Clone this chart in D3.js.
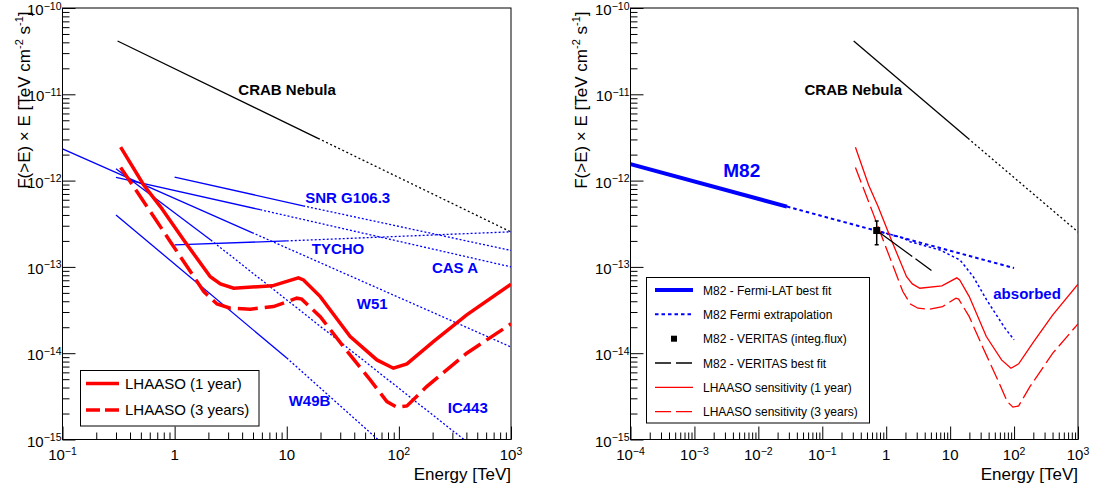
<!DOCTYPE html>
<html>
<head>
<meta charset="utf-8">
<script src="https://cdn.jsdelivr.net/npm/d3@7"></script>
<style>
  body { margin: 0; background: #fff; }
  svg { display: block; font-family: "Liberation Sans", Arial, Helvetica, sans-serif; }
</style>
</head>
<body>
<div id="chart"></div>
<script>
// Crab Nebula: fitted range (solid) then extrapolation (dotted)
const crabE = [0.31, 19, 1000];
const crabF = [4.15e-11, 3.09e-12, 2.54e-13];

// SNR sources, left panel: [start, end of fit, end of extrapolation]
const snrNames = ["SNR G106.3", "TYCHO", "CAS A", "W51", "W49B", "IC443"];
const snrE = [
  [1, 14, 1000],
  [1, 10, 1000],
  [0.3, 5.8, 1000],
  [0.1, 4.9, 1000],
  [0.3, 10, 65],
  [0.3, 2.1, 380]
];
const snrF = [
  [1.1e-12, 5.1e-13, 1.55e-13],
  [1.8e-13, 2.0e-13, 2.55e-13],
  [1.09e-12, 4.6e-13, 1.0e-13],
  [2.33e-12, 2.5e-13, 1.18e-14],
  [4.0e-13, 8.8e-15, 1.0e-15],
  [1.37e-12, 2.05e-13, 1.0e-15]
];
const snrLabelE = [14.6, 16.7, 197, 42.2, 10.4, 273];
const snrLabelF = [5.47e-13, 1.42e-13, 8.59e-14, 3.23e-14, 2.46e-15, 2.02e-15];

// LHAASO sensitivity, 1 year and 3 years
const lhaasoE1 = [0.33, 0.53, 0.746, 1.2, 2.08, 2.56, 3.36, 7.43, 12.7, 14.1, 19.9, 36.8, 63.7, 89.3, 118, 203, 403, 1000];
const lhaasoF1 = [2.44e-12, 8.9e-13, 5.0e-13, 2.06e-13, 7.7e-14, 6.35e-14, 5.66e-14, 6.03e-14, 7.46e-14, 7.06e-14, 4.53e-14, 1.56e-14, 8.36e-15, 6.7e-15, 7.52e-15, 1.36e-14, 2.78e-14, 6.3e-14];
const lhaasoE3 = [0.33, 0.608, 0.916, 1.29, 1.82, 2.39, 3.14, 4.73, 7.62, 12.3, 13.6, 19.9, 32.1, 55.5, 78.2, 95.9, 118, 177, 403, 1000];
const lhaasoF3 = [1.42e-12, 4.37e-13, 1.96e-13, 1.01e-13, 5.18e-14, 3.72e-14, 3.32e-14, 3.24e-14, 3.47e-14, 4.34e-14, 4.23e-14, 2.65e-14, 1.19e-14, 4.91e-15, 2.75e-15, 2.37e-15, 2.45e-15, 4.1e-15, 1.0e-14, 2.19e-14];

// M82: Fermi-LAT fit (solid) and extrapolation, absorbed version, VERITAS
const fermiE = [1e-4, 0.028, 100];
const fermiF = [1.55e-12, 5.0e-13, 9.7e-14];
const absorbedE = [0.7, 1.8, 2.36, 6.93, 14.3, 23, 37.2, 72, 100];
const absorbedF = [2.64e-13, 2.18e-13, 1.96e-13, 1.57e-13, 1.2e-13, 7.7e-14, 4.15e-14, 1.95e-14, 1.43e-14];
const veritasE = 0.71;
const veritasF = 2.64e-13;
const veritasErr = [1.80e-13, 3.41e-13];
const veritasFitE = [0.71, 5.1];
const veritasFitF = [2.64e-13, 9.1e-14];

// Axis ticks
const xTicksLeft = [0.1, 1, 10, 100, 1000];
const xTicksRight = [1e-4, 1e-3, 1e-2, 0.1, 1, 10, 100, 1000];
const yTicks = [1e-15, 1e-14, 1e-13, 1e-12, 1e-11, 1e-10];

const legendLeft = ["LHAASO (1 year)", "LHAASO (3 years)"];
const legendRight = [
  "M82 - Fermi-LAT best fit",
  "M82 Fermi extrapolation",
  "M82 - VERITAS (integ.flux)",
  "M82 - VERITAS best fit",
  "LHAASO sensitivity (1 year)",
  "LHAASO sensitivity (3 years)"
];

const W = 1094, H = 491;
const yTop = 8, yBottom = 439.5;
const RED = "#ff0000", BLUE = "#0000ff";

const svg = d3.select("#chart").append("svg")
  .attr("width", W)
  .attr("height", H);
svg.append("rect").attr("width", W).attr("height", H).attr("fill", "#fff");

const line = (x, y) => d3.line().x(d => x(d[0])).y(d => y(d[1]));

// tick label like ROOT: 10 with a superscript exponent
function powLabel(sel, v) {
  const e = Math.round(Math.log10(v));
  if (e === 0) { sel.text("1"); return; }
  if (e === 1) { sel.text("10"); return; }
  sel.append("tspan").text("10");
  sel.append("tspan").attr("font-size", 10.5).attr("dy", -5.5)
    .text(e < 0 ? "\u2212" + (-e) : e);
}

function panel(x0, x1, domain, xTicks, id, titleX) {
  const x = d3.scaleLog().domain(domain).range([x0, x1]);
  const y = d3.scaleLog().domain([1e-15, 1e-10]).range([yBottom, yTop]);
  const g = svg.append("g");

  svg.append("clipPath").attr("id", id)
    .append("rect")
    .attr("x", x0).attr("y", yTop)
    .attr("width", x1 - x0).attr("height", yBottom - yTop);

  // minor + major ticks, pointing inward
  const xMinor = x.ticks().filter(v => !xTicks.some(t => Math.abs(t - v) / v < 1e-6));
  const yMinor = y.ticks().filter(v => !yTicks.some(t => Math.abs(t - v) / v < 1e-6));

  [[xMinor, 7], [xTicks, 13]].forEach(([vals, len]) => {
    g.append("g")
      .attr("transform", `translate(0,${yBottom})`)
      .call(d3.axisBottom(x).tickValues(vals).tickSize(-len).tickFormat(""))
      .call(a => a.select(".domain").remove());
  });
  [[yMinor, 7], [yTicks, 13]].forEach(([vals, len]) => {
    g.append("g")
      .attr("transform", `translate(${x0},0)`)
      .call(d3.axisLeft(y).tickValues(vals).tickSize(-len).tickFormat(""))
      .call(a => a.select(".domain").remove());
  });

  // frame
  g.append("rect")
    .attr("x", x0).attr("y", yTop)
    .attr("width", x1 - x0).attr("height", yBottom - yTop)
    .attr("fill", "none").attr("stroke", "#000").attr("stroke-width", 1);

  // tick labels
  xTicks.forEach(v => {
    g.append("text")
      .attr("x", x(v)).attr("y", 460)
      .attr("text-anchor", "middle")
      .attr("font-size", 15)
      .call(powLabel, v);
  });
  yTicks.forEach(v => {
    g.append("text")
      .attr("x", x0 - 1).attr("y", y(v) + 7)
      .attr("text-anchor", "end")
      .attr("font-size", 15)
      .call(powLabel, v);
  });

  // axis titles
  g.append("text")
    .attr("x", x1).attr("y", 480)
    .attr("text-anchor", "end")
    .attr("font-size", 17)
    .text("Energy [TeV]");

  const yt = g.append("text")
    .attr("transform", `translate(${titleX},11.5) rotate(-90)`)
    .attr("text-anchor", "end")
    .attr("font-size", 17);
  yt.append("tspan").text("F(>E) \u00d7 E [TeV cm");
  yt.append("tspan").attr("font-size", 11).attr("dy", -7).text("-2");
  yt.append("tspan").attr("dy", 7).text(" s");
  yt.append("tspan").attr("font-size", 11).attr("dy", -7).text("-1");
  yt.append("tspan").attr("dy", 7).text("]");

  const plot = svg.append("g").attr("clip-path", `url(#${id})`);
  return { x, y, g, plot };
}

function drawPath(target, pts, gen, color, width, dash) {
  target.append("path")
    .datum(pts)
    .attr("d", gen)
    .attr("fill", "none")
    .attr("stroke", color)
    .attr("stroke-width", width)
    .attr("stroke-dasharray", dash || null);
}

function drawCrab(p) {
  const gen = line(p.x, p.y);
  const pts = d3.zip(crabE, crabF);
  drawPath(p.plot, pts.slice(0, 2), gen, "#000", 1.3);
  drawPath(p.plot, pts.slice(1), gen, "#000", 1.3, "2,2.5");
}

// ---------- Left panel ----------
const L = panel(62.5, 511, [0.1, 1000], xTicksLeft, "clipL", 29.5);
const genL = line(L.x, L.y);

drawCrab(L);
L.plot.append("text")
  .attr("x", L.x(3.7)).attr("y", L.y(9.84e-12))
  .attr("font-size", 15).attr("font-weight", "bold")
  .text("CRAB Nebula");

snrNames.forEach((name, i) => {
  const pts = d3.zip(snrE[i], snrF[i]);
  drawPath(L.plot, pts.slice(0, 2), genL, BLUE, 1.3);
  drawPath(L.plot, pts.slice(1), genL, BLUE, 1.3, "2,2");
  L.plot.append("text")
    .attr("x", L.x(snrLabelE[i])).attr("y", L.y(snrLabelF[i]))
    .attr("font-size", 15).attr("font-weight", "bold")
    .attr("fill", BLUE)
    .text(name);
});

drawPath(L.plot, d3.zip(lhaasoE1, lhaasoF1), genL, RED, 3.5);
drawPath(L.plot, d3.zip(lhaasoE3, lhaasoF3), genL, RED, 3.5, "20,7");

// left legend
const lg = svg.append("g");
lg.append("rect")
  .attr("x", 80.5).attr("y", 370.5).attr("width", 178.5).attr("height", 55.5)
  .attr("fill", "#fff").attr("stroke", "#000");
legendLeft.forEach((t, i) => {
  const cy = [383.5, 410][i];
  lg.append("line")
    .attr("x1", 86).attr("x2", 119).attr("y1", cy).attr("y2", cy)
    .attr("stroke", RED).attr("stroke-width", 3.5)
    .attr("stroke-dasharray", i ? "14,5" : null);
  lg.append("text")
    .attr("x", 125).attr("y", cy + 5)
    .attr("font-size", 15)
    .text(t);
});

// ---------- Right panel ----------
const R = panel(630.5, 1078, [1e-4, 1000], xTicksRight, "clipR", 587);
const genR = line(R.x, R.y);

drawCrab(R);
R.plot.append("text")
  .attr("x", R.x(0.0527)).attr("y", R.y(9.84e-12))
  .attr("font-size", 15).attr("font-weight", "bold")
  .text("CRAB Nebula");

const fermiPts = d3.zip(fermiE, fermiF);
drawPath(R.plot, fermiPts.slice(0, 2), genR, BLUE, 4);
drawPath(R.plot, fermiPts.slice(1), genR, BLUE, 2, "3.5,3");
drawPath(R.plot, d3.zip(absorbedE, absorbedF), genR, BLUE, 1.5, "2.5,2.5");

drawPath(R.plot, d3.zip(lhaasoE1, lhaasoF1), genR, RED, 1.3);
drawPath(R.plot, d3.zip(lhaasoE3, lhaasoF3), genR, RED, 1.3, "16,5");

drawPath(R.plot, d3.zip(veritasFitE, veritasFitF), genR, "#000", 1.3, "44,4");

// VERITAS integral flux point with error bar
const vx = R.x(veritasE);
R.plot.append("line")
  .attr("x1", vx).attr("x2", vx)
  .attr("y1", R.y(veritasErr[0])).attr("y2", R.y(veritasErr[1]))
  .attr("stroke", "#000").attr("stroke-width", 1.5);
veritasErr.forEach(v => {
  R.plot.append("line")
    .attr("x1", vx - 2).attr("x2", vx + 2)
    .attr("y1", R.y(v)).attr("y2", R.y(v))
    .attr("stroke", "#000").attr("stroke-width", 1.5);
});
R.plot.append("rect")
  .attr("x", vx - 3.5).attr("y", R.y(veritasF) - 3.5)
  .attr("width", 7).attr("height", 7)
  .attr("fill", "#000");

R.plot.append("text")
  .attr("x", R.x(2.83e-3)).attr("y", R.y(1.11e-12))
  .attr("font-size", 19).attr("font-weight", "bold")
  .attr("fill", BLUE)
  .text("M82");
R.plot.append("text")
  .attr("x", R.x(47.3)).attr("y", R.y(4.23e-14))
  .attr("font-size", 15).attr("font-weight", "bold")
  .attr("fill", BLUE)
  .text("absorbed");

// right legend
const rg = svg.append("g");
rg.append("rect")
  .attr("x", 646.5).attr("y", 277.5).attr("width", 223).attr("height", 145.5)
  .attr("fill", "#fff").attr("stroke", "#000");
const rowY = [290, 314.3, 338.7, 363, 387.3, 411.7];
const sampleStyle = [
  { c: BLUE, w: 4, d: null },
  { c: BLUE, w: 2, d: "3.5,3" },
  null,
  { c: "#000", w: 1.3, d: "16,5" },
  { c: RED, w: 1.3, d: null },
  { c: RED, w: 1.3, d: "16,5" }
];
legendRight.forEach((t, i) => {
  const cy = rowY[i];
  const s = sampleStyle[i];
  if (s) {
    rg.append("line")
      .attr("x1", 655).attr("x2", 693).attr("y1", cy).attr("y2", cy)
      .attr("stroke", s.c).attr("stroke-width", s.w)
      .attr("stroke-dasharray", s.d);
  } else {
    rg.append("rect")
      .attr("x", 674 - 3).attr("y", cy - 3)
      .attr("width", 6).attr("height", 6)
      .attr("fill", "#000");
  }
  rg.append("text")
    .attr("x", 703).attr("y", cy + 4.5)
    .attr("font-size", 12)
    .text(t);
});
</script>
</body>
</html>
